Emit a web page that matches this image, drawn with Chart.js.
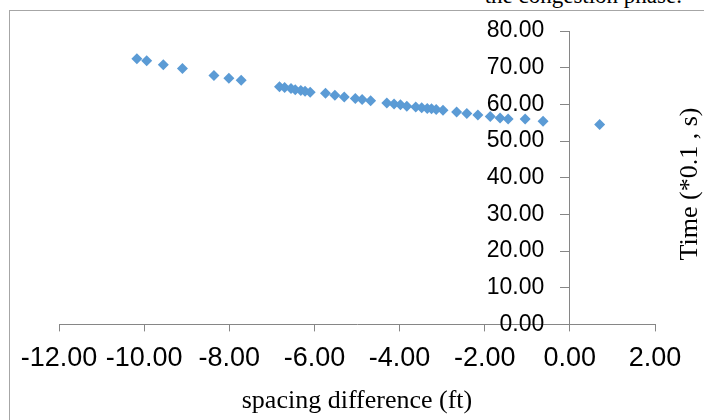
<!DOCTYPE html>
<html>
<head>
<meta charset="utf-8">
<script src="https://cdn.jsdelivr.net/npm/chart.js@4.4.1/dist/chart.umd.min.js"></script>
<style>
body{margin:0;background:#fff;overflow:hidden}
#frame{position:absolute;left:9px;top:10px;width:800px;height:500px;border-left:1px solid #a6a6a6;border-top:1px solid #a6a6a6}
#caption{position:absolute;left:0;width:682px;text-align:right;top:-16px;font-family:"Liberation Serif",serif;font-size:23px;line-height:24px;white-space:nowrap}
#wrap{position:absolute;left:0;top:0;width:704px;height:420px}
</style>
</head>
<body>
<div id="caption">the congestion phase.</div>
<div id="frame"></div>
<div id="wrap"><canvas id="myChart"></canvas></div>
<script>
// spacing difference (ft) vs time (*0.1 s)
const spacingDiff = [-10.17, -9.94, -9.55, -9.10, -8.36, -8.01, -7.72, -6.82, -6.70, -6.55,
  -6.45, -6.32, -6.22, -6.10, -5.74, -5.52, -5.30, -5.04, -4.88, -4.68,
  -4.30, -4.13, -3.98, -3.83, -3.62, -3.48, -3.35, -3.25, -3.14, -2.98,
  -2.66, -2.42, -2.16, -1.87, -1.64, -1.45, -1.05, -0.63, 0.70]
const timeVals = [72.4, 71.9, 70.8, 69.8, 67.9, 67.1, 66.6, 64.8, 64.6, 64.3,
  64.0, 63.8, 63.6, 63.3, 63.0, 62.5, 62.0, 61.6, 61.3, 61.0,
  60.4, 60.1, 59.9, 59.5, 59.3, 59.1, 58.9, 58.8, 58.6, 58.4,
  57.9, 57.5, 57.1, 56.7, 56.3, 56.0, 56.0, 55.4, 54.5]
const xTicks = [-12, -10, -8, -6, -4, -2, 0, 2]
const yTicks = [0, 10, 20, 30, 40, 50, 60, 70, 80]

const points = spacingDiff.map((x, i) => ({x: x, y: timeVals[i]}))

// y title sits at the far right, reading bottom to top
const yTitle = {
  id: 'yTitle',
  afterDraw(chart) {
    const c = chart.ctx
    c.save()
    c.translate(chart.chartArea.right + 35, 184)
    c.rotate(-Math.PI / 2)
    c.font = '26px "Liberation Serif"'
    c.fillStyle = '#000'
    c.textAlign = 'center'
    c.textBaseline = 'middle'
    c.fillText('Time (*0.1 , s)', 0, 0)
    c.restore()
  }
}

const ctx = document.getElementById('myChart')

new Chart(ctx, {
  type: 'scatter',
  data: {
    datasets: [{
      data: points,
      pointStyle: 'rectRot',
      pointRadius: 5.5,
      borderWidth: 0,
      backgroundColor: '#5B9BD5',
      borderColor: '#5B9BD5'
    }]
  },
  options: {
    responsive: true,
    maintainAspectRatio: false,
    animation: false,
    layout: {padding: {left: 59, right: 49, top: 31, bottom: 0}},
    plugins: {legend: {display: false}, tooltip: {enabled: false}},
    scales: {
      x: {
        type: 'linear',
        position: 'bottom',
        min: -12,
        max: 2,
        afterBuildTicks: axis => { axis.ticks = xTicks.map(v => ({value: v})) },
        grid: {drawOnChartArea: false, drawTicks: true, tickLength: 7, color: '#868686'},
        border: {color: '#868686'},
        ticks: {
          color: '#000',
          padding: 11,
          font: {family: 'Liberation Sans', size: 27},
          callback: v => v.toFixed(2)
        },
        title: {
          display: true,
          text: 'spacing difference (ft)',
          color: '#000',
          font: {family: 'Liberation Serif', size: 26},
          padding: {top: 0, bottom: 3}
        }
      },
      y: {
        type: 'linear',
        position: {x: 0},
        min: 0,
        max: 80,
        afterBuildTicks: axis => { axis.ticks = yTicks.map(v => ({value: v})) },
        grid: {drawOnChartArea: false, drawTicks: true, tickLength: 9, color: '#868686'},
        border: {color: '#868686'},
        ticks: {
          color: '#000',
          font: {family: 'Liberation Sans', size: 23},
          // axis sits inside the plot, so push labels off it with trailing spaces
          callback: v => v.toFixed(2) + '    '
        }
      }
    }
  },
  plugins: [yTitle]
})
</script>
</body>
</html>
